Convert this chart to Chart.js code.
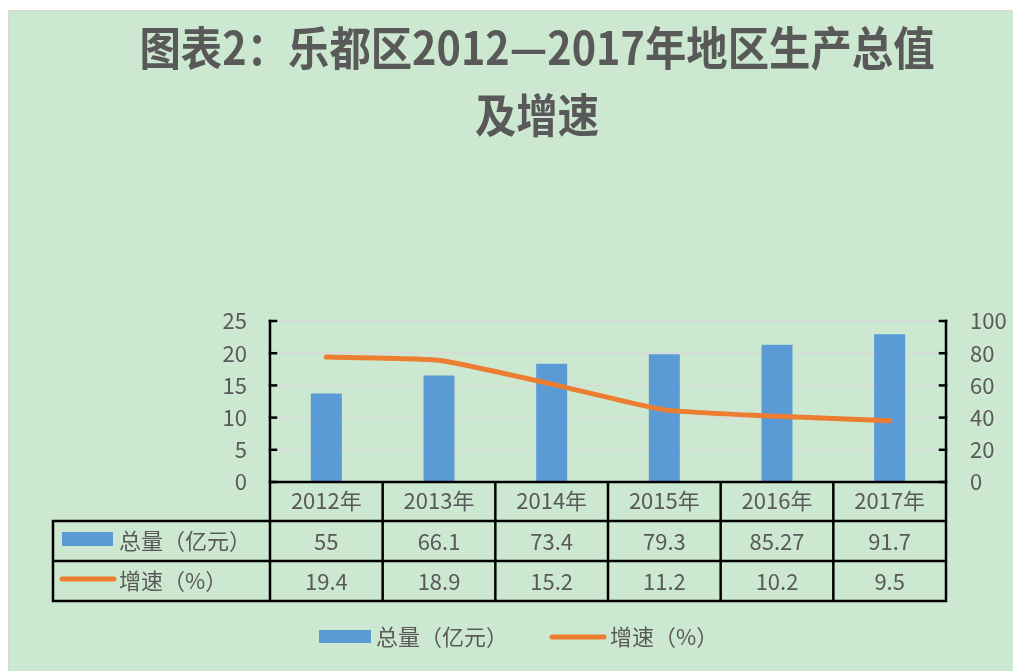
<!DOCTYPE html>
<html>
<head>
<meta charset="utf-8">
<script src="https://cdn.jsdelivr.net/npm/chart.js@4/dist/chart.umd.min.js"></script>
<style>
  html, body { margin: 0; padding: 0; background: #fff; }
  #wrap { width: 1013px; height: 671px; position: relative; }
</style>
</head>
<body>
<div id="wrap"><canvas id="grafico" width="1013" height="671"></canvas></div>
<script>
const titulo = ['图表2：乐都区2012—2017年地区生产总值', '及增速']
const anos = ['2012年', '2013年', '2014年', '2015年', '2016年', '2017年']
const totalNome = '总量（亿元）'
const totalValores = [55, 66.1, 73.4, 79.3, 85.27, 91.7]
const totalTexto = ['55', '66.1', '73.4', '79.3', '85.27', '91.7']
const crescNome = '增速（%）'
const crescValores = [19.4, 18.9, 15.2, 11.2, 10.2, 9.5]

const corFundo = '#cde8d0'
const corTexto = '#595959'
const corBarra = '#5b9bd5'
const corLinha = '#ed7d31'
const fonte = '"Noto Sans CJK SC", "Noto Sans", sans-serif'

Chart.defaults.font.family = fonte
Chart.defaults.color = corTexto

// fundo, tabela, legenda e titulo
const extras = {
  id: 'extras',
  beforeDraw(chart) {
    const ctx = chart.ctx
    ctx.save()
    ctx.fillStyle = '#fff'
    ctx.fillRect(0, 0, chart.width, chart.height)
    ctx.fillStyle = '#d6d6d6'
    ctx.fillRect(8, 10, chart.width - 8, chart.height - 10)
    ctx.fillStyle = corFundo
    ctx.fillRect(9, 11, chart.width - 9, chart.height - 11)
    ctx.restore()
  },
  afterDraw(chart) {
    const ctx = chart.ctx
    const area = chart.chartArea
    const x = chart.scales.x
    const yL = chart.scales.yLeft
    const yR = chart.scales.yRight
    const passo = x.getPixelForValue(1) - x.getPixelForValue(0)
    const tabEsq = 53
    const linha1 = area.bottom + 39
    const linha2 = linha1 + 40
    const fim = linha2 + 40

    ctx.save()
    ctx.strokeStyle = '#000'
    ctx.lineWidth = 2.5
    ctx.lineCap = 'square'

    // marcas dos eixos (para dentro)
    yL.ticks.forEach((t) => {
      const py = yL.getPixelForValue(t.value)
      ctx.beginPath(); ctx.moveTo(area.left, py); ctx.lineTo(area.left + 6, py); ctx.stroke()
    })
    yR.ticks.forEach((t) => {
      const py = yR.getPixelForValue(t.value)
      ctx.beginPath(); ctx.moveTo(area.right, py); ctx.lineTo(area.right - 6, py); ctx.stroke()
    })

    // eixos e tabela
    ctx.beginPath()
    ctx.moveTo(area.left, area.top); ctx.lineTo(area.left, fim)
    ctx.moveTo(area.right, area.top); ctx.lineTo(area.right, fim)
    ctx.moveTo(area.left, area.bottom); ctx.lineTo(area.right, area.bottom)
    ctx.moveTo(tabEsq, linha1); ctx.lineTo(area.right, linha1)
    ctx.moveTo(tabEsq, linha2); ctx.lineTo(area.right, linha2)
    ctx.moveTo(tabEsq, fim); ctx.lineTo(area.right, fim)
    ctx.moveTo(tabEsq, linha1); ctx.lineTo(tabEsq, fim)
    for (let i = 1; i < anos.length; i++) {
      const px = area.left + passo * i
      ctx.moveTo(px, area.bottom); ctx.lineTo(px, fim)
    }
    ctx.stroke()

    // valores
    ctx.fillStyle = corTexto
    ctx.font = '22px ' + fonte
    ctx.textAlign = 'center'
    ctx.textBaseline = 'middle'
    anos.forEach((a, i) => {
      const px = x.getPixelForValue(i)
      ctx.fillText(totalTexto[i], px, linha1 + 21)
      ctx.fillText(String(crescValores[i]), px, linha2 + 21)
    })

    // chaves na tabela
    ctx.textAlign = 'left'
    ctx.fillStyle = corBarra
    ctx.fillRect(62, linha1 + 11, 51, 14)
    ctx.fillStyle = corTexto
    ctx.fillText(totalNome, 119, linha1 + 20)
    ctx.strokeStyle = corLinha
    ctx.lineWidth = 5
    ctx.lineCap = 'round'
    ctx.beginPath(); ctx.moveTo(62, linha2 + 18); ctx.lineTo(114, linha2 + 18); ctx.stroke()
    ctx.fillText(crescNome, 119, linha2 + 20)

    // legenda de baixo
    ctx.fillStyle = corBarra
    ctx.fillRect(319, 630, 52, 13)
    ctx.fillStyle = corTexto
    ctx.fillText(totalNome, 376, 637)
    ctx.beginPath(); ctx.moveTo(552, 637); ctx.lineTo(604, 637); ctx.stroke()
    ctx.fillText(crescNome, 610, 637)

    // titulo
    ctx.font = 'bold 46px ' + fonte
    ctx.textAlign = 'center'
    const larg = ctx.measureText(titulo[0]).width
    const esc = 795 / larg
    ctx.translate(537, 0)
    ctx.scale(esc, 1)
    ctx.fillText(titulo[0], 0, 48)
    ctx.fillText(titulo[1], 0, 115)
    ctx.restore()
  }
}

const grafico = new Chart(document.getElementById('grafico'), {
  data: {
    labels: anos,
    datasets: [
      {
        type: 'line',
        label: crescNome,
        data: crescValores,
        yAxisID: 'yLeft',
        borderColor: corLinha,
        backgroundColor: corLinha,
        borderWidth: 5,
        borderCapStyle: 'round',
        borderJoinStyle: 'round',
        pointRadius: 0,
        tension: 0.15,
        order: 0
      },
      {
        type: 'bar',
        label: totalNome,
        data: totalValores,
        yAxisID: 'yRight',
        backgroundColor: corBarra,
        barPercentage: 0.275,
        categoryPercentage: 1,
        order: 1
      }
    ]
  },
  options: {
    responsive: false,
    animation: false,
    layout: { padding: { top: 321, left: 0, right: 0, bottom: 0 } },
    plugins: {
      legend: { display: false },
      title: { display: false },
      tooltip: { enabled: false }
    },
    scales: {
      x: {
        offset: true,
        grid: { display: false, drawTicks: false },
        border: { display: false },
        ticks: { font: { size: 22 }, color: corTexto, padding: 5 },
        afterFit: (s) => { s.height = 189 }
      },
      yLeft: {
        position: 'left',
        min: 0,
        max: 25,
        ticks: { stepSize: 5, font: { size: 22 }, color: corTexto, padding: 23 },
        grid: { color: '#d9d9d9', lineWidth: 1.5, drawTicks: false },
        border: { display: false },
        afterFit: (s) => { s.width = 270 }
      },
      yRight: {
        position: 'right',
        min: 0,
        max: 100,
        ticks: { stepSize: 20, font: { size: 22 }, color: corTexto, padding: 24 },
        grid: { display: false, drawTicks: false },
        border: { display: false },
        afterFit: (s) => { s.width = 67 }
      }
    }
  },
  plugins: [extras]
})
</script>
</body>
</html>
